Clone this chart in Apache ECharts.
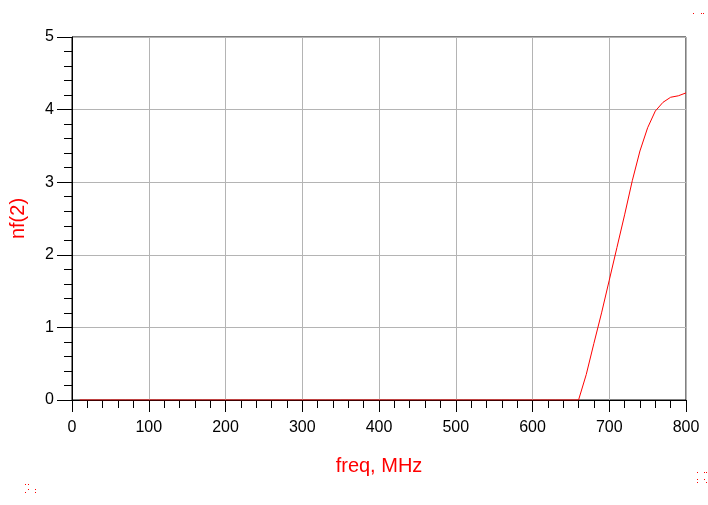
<!DOCTYPE html>
<html>
<head>
<meta charset="utf-8">
<script src="https://cdn.jsdelivr.net/npm/echarts@6/dist/echarts.min.js"></script>
<style>html,body{margin:0;padding:0;background:#fff}#c{width:708px;height:505px}</style>
</head>
<body>
<div id="c"></div>
<script>
const freq = [10,20,30,40,50,60,70,80,90,100,110,120,130,140,150,160,170,180,190,200,
  210,220,230,240,250,260,270,280,290,300,310,320,330,340,350,360,370,380,390,400,
  410,420,430,440,450,460,470,480,490,500,510,520,530,540,550,560,570,580,590,600,
  610,620,630,640,650,660,670,680,690,700,710,720,730,740,750,760,770,780,790,800];
const nf2 = [0,0,0,0,0,0,0,0,0,0,0,0,0,0,0,0,0,0,0,0,
  0,0,0,0,0,0,0,0,0,0,0,0,0,0,0,0,0,0,0,0,
  0,0,0,0,0,0,0,0,0,0,0,0,0,0,0,0,0,0,0,0,
  0,0,0,0,0,0,0.35,0.78,1.2,1.65,2.1,2.55,3.02,3.43,3.75,3.98,4.1,4.17,4.19,4.23];
const xTicks = [0,100,200,300,400,500,600,700,800];
const yTicks = [0,1,2,3,4,5];

const chart = echarts.init(document.getElementById('c'));
const font = 'Liberation Sans, Arial, sans-serif';
chart.setOption({
  animation: false,
  grid: {left: 70, right: 22, top: 37, bottom: 105, show: true, borderColor: '#000', borderWidth: 1},
  xAxis: {
    type: 'value', min: xTicks[0], max: xTicks[xTicks.length-1], interval: 100,
    name: 'freq, MHz', nameLocation: 'middle', nameGap: 56,
    nameTextStyle: {color: '#ff0000', fontSize: 20, fontFamily: font},
    axisLine: {show: true, lineStyle: {color: '#000', width: 1}},
    axisTick: {show: true, length: 12, lineStyle: {color: '#000'}},
    minorTick: {show: true, splitNumber: 5, length: 8, lineStyle: {color: '#000'}},
    splitLine: {show: true, lineStyle: {color: '#b4b4b4', width: 1}},
    axisLabel: {color: '#000', fontSize: 16, fontFamily: font, margin: 20}
  },
  yAxis: {
    type: 'value', min: yTicks[0], max: yTicks[yTicks.length-1], interval: 1,
    name: 'nf(2)', nameLocation: 'middle', nameGap: 44, nameRotate: 90,
    nameTextStyle: {color: '#ff0000', fontSize: 20, fontFamily: font},
    axisLine: {show: true, lineStyle: {color: '#000', width: 1}},
    axisTick: {show: true, length: 15, lineStyle: {color: '#000'}},
    minorTick: {show: true, splitNumber: 5, length: 8, lineStyle: {color: '#000'}},
    splitLine: {show: true, lineStyle: {color: '#b4b4b4', width: 1}},
    axisLabel: {color: '#000', fontSize: 16, fontFamily: font, margin: 18}
  },
  series: [{
    type: 'line', data: freq.map((f, i) => [f, nf2[i]]),
    showSymbol: false, lineStyle: {color: '#ff0000', width: 1}, z: 5
  }],
  graphic: [
    {type: 'group', left: 693, top: 13, children: [
      {type:'rect', shape:{x:0,y:0,width:1,height:1}, style:{fill:'#f00'}},
      {type:'rect', shape:{x:8,y:0,width:1,height:1}, style:{fill:'#f00'}},
      {type:'rect', shape:{x:10,y:0,width:1,height:1}, style:{fill:'#f00'}}]},
    {type: 'group', left: 697, top: 472, children: [
      {type:'rect', shape:{x:0,y:0,width:1,height:1}, style:{fill:'#f00'}},
      {type:'rect', shape:{x:7,y:0,width:1,height:1}, style:{fill:'#f00'}},
      {type:'rect', shape:{x:9,y:0,width:1,height:1}, style:{fill:'#f00'}},
      {type:'rect', shape:{x:0,y:7,width:1,height:1}, style:{fill:'#f00'}},
      {type:'rect', shape:{x:7,y:7,width:1,height:1}, style:{fill:'#f00'}},
      {type:'rect', shape:{x:0,y:10,width:1,height:1}, style:{fill:'#f00'}},
      {type:'rect', shape:{x:9,y:10,width:1,height:1}, style:{fill:'#f00'}}]},
    {type: 'group', left: 25, top: 484, children: [
      {type:'rect', shape:{x:0,y:0,width:1,height:1}, style:{fill:'#f00'}},
      {type:'rect', shape:{x:3,y:0,width:1,height:1}, style:{fill:'#f00'}},
      {type:'rect', shape:{x:0,y:8,width:1,height:1}, style:{fill:'#f00'}},
      {type:'rect', shape:{x:3,y:5,width:1,height:1}, style:{fill:'#f00'}},
      {type:'rect', shape:{x:10,y:5,width:1,height:1}, style:{fill:'#f00'}},
      {type:'rect', shape:{x:10,y:8,width:1,height:1}, style:{fill:'#f00'}}]}
  ]
});
</script>
</body>
</html>
